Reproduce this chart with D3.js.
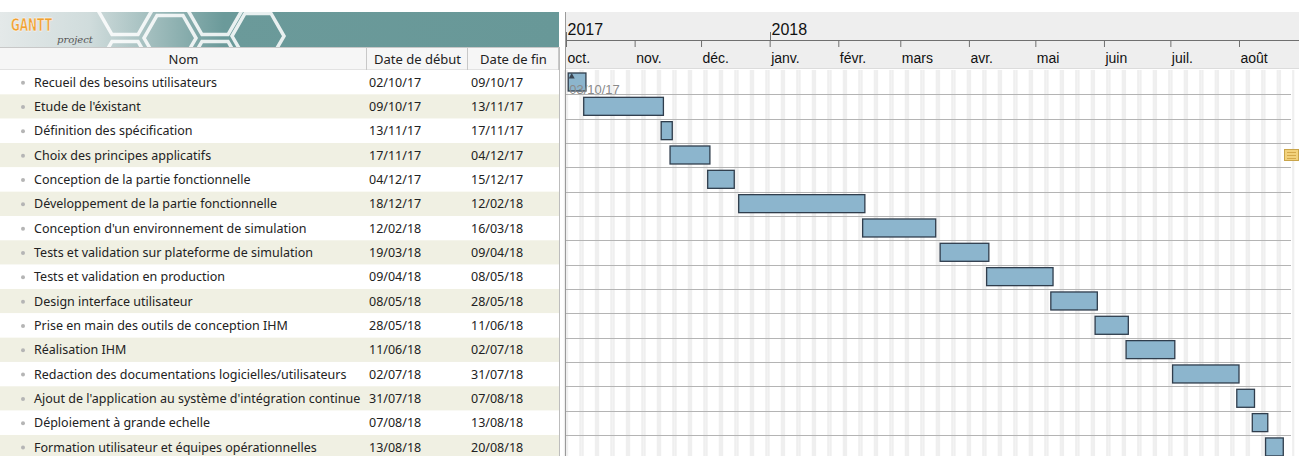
<!DOCTYPE html>
<html>
<head>
<meta charset="utf-8">
<script src="https://cdn.jsdelivr.net/npm/d3@7"></script>
<style>
  body { margin: 0; background: #fff; overflow: hidden; }
  svg { display: block; }
</style>
</head>
<body>
<div id="chart"></div>
<script>
const taskNames = [
  "Recueil des besoins utilisateurs",
  "Etude de l'éxistant",
  "Définition des spécification",
  "Choix des principes applicatifs",
  "Conception de la partie fonctionnelle",
  "Développement de la partie fonctionnelle",
  "Conception d'un environnement de simulation",
  "Tests et validation sur plateforme de simulation",
  "Tests et validation en production",
  "Design interface utilisateur",
  "Prise en main des outils de conception IHM",
  "Réalisation IHM",
  "Redaction des documentations logicielles/utilisateurs",
  "Ajout de l'application au système d'intégration continue",
  "Déploiement à grande echelle",
  "Formation utilisateur et équipes opérationnelles"
];
const taskStarts = ["02/10/17","09/10/17","13/11/17","17/11/17","04/12/17","18/12/17","12/02/18","19/03/18",
                    "09/04/18","08/05/18","28/05/18","11/06/18","02/07/18","31/07/18","07/08/18","13/08/18"];
const taskEnds   = ["09/10/17","13/11/17","17/11/17","04/12/17","15/12/17","12/02/18","16/03/18","09/04/18",
                    "08/05/18","28/05/18","11/06/18","02/07/18","31/07/18","07/08/18","13/08/18","20/08/18"];
const columnTitles = ["Nom", "Date de début", "Date de fin"];
const monthLabels = ["oct.","nov.","déc.","janv.","févr.","mars","avr.","mai","juin","juil.","août"];
const yearLabels = ["2017", "2018"];
const markerLabel = "03/10/17";

const W = 1299, H = 456;
const top0 = 12;          // bande blanche en haut
const headTop = 47;       // ligne des titres de colonnes
const rowsTop = 70;
const rowH = 24.33;
const tableW = 559;
const colX = [0, 367, 468, tableW];
const chartLeft = 565;

const parse = d3.timeParse("%d/%m/%y");

const svg = d3.select("#chart").append("svg")
  .attr("width", W).attr("height", H)
  .style("font-family", "'Noto Sans', 'Open Sans', sans-serif");

// ---------- tableau de gauche ----------
const defs = svg.append("defs");
const grad = defs.append("linearGradient").attr("id", "logoGrad")
  .attr("x1", 0).attr("x2", 1).attr("y1", 0).attr("y2", 0);
grad.append("stop").attr("offset", "0%").attr("stop-color", "#e4e9e9");
grad.append("stop").attr("offset", "16%").attr("stop-color", "#d0dcdc");
grad.append("stop").attr("offset", "40%").attr("stop-color", "#6b9a9a");
grad.append("stop").attr("offset", "100%").attr("stop-color", "#689898");
defs.append("clipPath").attr("id", "bandClip")
  .append("rect").attr("x", 0).attr("y", top0).attr("width", tableW).attr("height", headTop - top0);

svg.append("rect").attr("x", 0).attr("y", top0).attr("width", tableW).attr("height", headTop - top0)
  .attr("fill", "url(#logoGrad)");

// alveoles blanches du bandeau
const hex = (cx, cy, r) => {
  const pts = d3.range(6).map(k => {
    const a = Math.PI / 3 * k;
    return [cx + r * Math.cos(a), cy + r * Math.sin(a)];
  });
  return "M" + pts.join("L") + "Z";
};
const hexCenters = [[125, 12], [170, 38], [215, 12], [125, 64], [258, 36], [215, 64]];
svg.append("g").attr("clip-path", "url(#bandClip)")
  .selectAll("path").data(hexCenters).join("path")
  .attr("d", d => hex(d[0], d[1], 26))
  .attr("fill", "none").attr("stroke", "#fff").attr("stroke-width", 3.5).attr("opacity", 0.85);

svg.append("text").attr("x", 11).attr("y", 31)
  .style("font-family", "'DejaVu Sans', sans-serif").style("font-weight", "bold")
  .style("font-size", "17px").attr("fill", "#f0a030").attr("stroke", "#fff").attr("stroke-width", 0.5)
  .attr("textLength", 41).attr("lengthAdjust", "spacingAndGlyphs")
  .text("GANTT");
svg.append("text").attr("x", 57).attr("y", 43)
  .style("font-family", "'DejaVu Serif', serif").style("font-style", "italic")
  .style("font-size", "10px").attr("fill", "#555").text("project");

// titres de colonnes
svg.append("rect").attr("x", 0).attr("y", headTop).attr("width", tableW).attr("height", rowsTop - headTop)
  .attr("fill", "#f6f6f6");
svg.append("line").attr("x1", 0).attr("x2", tableW).attr("y1", headTop + 0.5).attr("y2", headTop + 0.5)
  .attr("stroke", "#c8c8c8");
svg.append("line").attr("x1", 0).attr("x2", tableW).attr("y1", rowsTop - 0.5).attr("y2", rowsTop - 0.5)
  .attr("stroke", "#e2e2e2");
svg.selectAll(".coldiv").data(colX.slice(1)).join("line")
  .attr("class", "coldiv")
  .attr("x1", d => d - 0.5).attr("x2", d => d - 0.5)
  .attr("y1", headTop).attr("y2", rowsTop)
  .attr("stroke", "#c8c8c8");
svg.selectAll(".coltitle").data(columnTitles).join("text")
  .attr("class", "coltitle")
  .attr("x", (d, i) => (colX[i] + colX[i + 1]) / 2)
  .attr("y", rowsTop - 6)
  .attr("text-anchor", "middle")
  .style("font-size", "13px").attr("fill", "#222")
  .text(d => d);

const y = i => rowsTop + i * rowH;

const rows = svg.append("g").selectAll("g").data(taskNames).join("g")
  .attr("transform", (d, i) => `translate(0,${y(i)})`);
rows.append("rect")
  .attr("width", tableW).attr("height", rowH)
  .attr("fill", (d, i) => i % 2 ? "#f0f0e3" : "#fff");
rows.append("circle").attr("cx", 23).attr("cy", rowH / 2 + 0.5).attr("r", 2).attr("fill", "#b5b5b5");
rows.append("text").attr("x", 34).attr("y", rowH / 2 + 4.5)
  .style("font-size", "12.5px").attr("fill", "#222").text(d => d);
rows.append("text").attr("x", 369).attr("y", rowH / 2 + 4.5)
  .style("font-size", "12.5px").attr("fill", "#222").text((d, i) => taskStarts[i]);
rows.append("text").attr("x", 471).attr("y", rowH / 2 + 4.5)
  .style("font-size", "12.5px").attr("fill", "#222").text((d, i) => taskEnds[i]);

svg.append("line").attr("x1", tableW + 0.5).attr("x2", tableW + 0.5).attr("y1", headTop).attr("y2", H)
  .attr("stroke", "#bdbdbd");

// ---------- diagramme ----------
const x = d3.scaleTime()
  .domain([new Date(2017, 9, 1), new Date(2018, 7, 1)])
  .range([566, 1239]);

const chart = svg.append("g");
const chartRight = 1291;

// week-ends
const days = d3.timeDay.range(new Date(2017, 8, 30), new Date(2018, 7, 26))
  .filter(d => d.getDay() === 0 || d.getDay() === 6);
chart.selectAll(".we").data(days).join("rect")
  .attr("class", "we")
  .attr("x", d => x(d))
  .attr("width", d => x(d3.timeDay.offset(d, 1)) - x(d))
  .attr("y", rowsTop).attr("height", H - rowsTop)
  .attr("fill", "#efefef");

// lignes des taches
chart.selectAll(".rowline").data(taskNames).join("line")
  .attr("class", "rowline")
  .attr("x1", chartLeft).attr("x2", chartRight)
  .attr("y1", (d, i) => Math.round(y(i + 1)) + 0.5).attr("y2", (d, i) => Math.round(y(i + 1)) + 0.5)
  .attr("stroke", "#b4b4b4");

// barres
chart.selectAll(".bar").data(taskNames).join("rect")
  .attr("class", "bar")
  .attr("x", (d, i) => x(parse(taskStarts[i])))
  .attr("width", (d, i) => x(d3.timeDay.offset(parse(taskEnds[i]), 1)) - x(parse(taskStarts[i])))
  .attr("y", (d, i) => y(i) + 3)
  .attr("height", 18)
  .attr("fill", "#8cb5cd")
  .attr("stroke", "#2f3d4c")
  .attr("stroke-width", 1.3);

// marqueur de la premiere tache
const s0 = x(parse(taskStarts[0]));
chart.append("path")
  .attr("d", `M${s0 + 0.5},${y(0) + 8.5}L${s0 + 3.5},${y(0) + 3}L${s0 + 6.5},${y(0) + 8.5}Z`)
  .attr("fill", "#3b4653");
chart.append("text").attr("x", s0 + 1).attr("y", y(1))
  .style("font-family", "'Liberation Sans', Arial, sans-serif")
  .style("font-size", "13px").attr("fill", "#8a8a8a").text(markerLabel);

// indicateur hors champ (tache 3)
chart.append("rect").attr("x", 1284.5).attr("y", y(3) + 6.5).attr("width", 14).attr("height", 11)
  .attr("fill", "#f2d27c").attr("stroke", "#c9a54a");
chart.selectAll(".noteLine").data([0, 1, 2]).join("line")
  .attr("class", "noteLine")
  .attr("x1", 1287).attr("x2", 1296)
  .attr("y1", d => y(3) + 9.5 + d * 3).attr("y2", d => y(3) + 9.5 + d * 3)
  .attr("stroke", "#d4a84a");

// en-tete temporel
svg.append("rect").attr("x", chartLeft).attr("y", top0).attr("width", W - chartLeft).attr("height", rowsTop - 1 - top0)
  .attr("fill", "#eeeeee");
svg.append("line").attr("x1", chartLeft).attr("x2", W).attr("y1", rowsTop - 1.5).attr("y2", rowsTop - 1.5)
  .attr("stroke", "#dcdcdc");
svg.append("line").attr("x1", chartLeft).attr("x2", W).attr("y1", 40.5).attr("y2", 40.5)
  .attr("stroke", "#6f6f6f");

const monthAxis = d3.axisBottom(x)
  .ticks(d3.timeMonth.every(1))
  .tickFormat((d, i) => monthLabels[i])
  .tickSize(7);
const ma = svg.append("g").attr("transform", "translate(0,40)").call(monthAxis);
ma.select(".domain").remove();
ma.selectAll(".tick line").attr("stroke", "#6f6f6f");
ma.selectAll(".tick text")
  .attr("text-anchor", "start").attr("x", 1).attr("y", 23).attr("dy", null)
  .style("font-family", "'Liberation Sans', Arial, sans-serif").style("font-size", "14px")
  .attr("fill", "#111");

const yearStarts = [new Date(2017, 9, 1), new Date(2018, 0, 1)];
const ya = svg.append("g").selectAll("g").data(yearStarts).join("g")
  .attr("transform", d => `translate(${Math.round(x(d)) + 0.5},0)`);
ya.append("line").attr("y1", 32).attr("y2", 40).attr("stroke", "#6f6f6f");
ya.append("text").attr("x", 1).attr("y", 35)
  .style("font-family", "'Liberation Sans', Arial, sans-serif").style("font-size", "16px")
  .attr("fill", "#111").text((d, i) => yearLabels[i]);

svg.append("line").attr("x1", chartLeft + 0.5).attr("x2", chartLeft + 0.5).attr("y1", top0).attr("y2", H)
  .attr("stroke", "#9a9a9a");
</script>
</body>
</html>
